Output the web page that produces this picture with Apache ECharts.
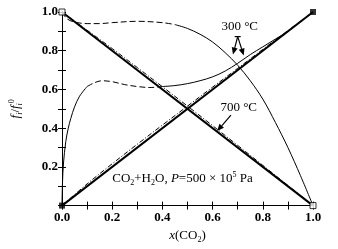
<!DOCTYPE html>
<html><head><meta charset="utf-8">
<script src="https://cdn.jsdelivr.net/npm/echarts@6/dist/echarts.min.js"></script>
<style>html,body{margin:0;padding:0;background:#fff}#c{width:338px;height:249px}</style>
</head><body><div id="c"></div>
<script>
// ---- data ----
const xTickLabels = ['0.0','0.2','0.4','0.6','0.8','1.0'];
const yTickLabels = ['0.2','0.4','0.6','0.8','1.0'];

const xIdeal = [0, 1];
const yIdealH2O = [1, 0];
const yIdealCO2 = [0, 1];

const x700 = [0, 0.1, 0.2, 0.3, 0.4, 0.5, 0.6, 0.7, 0.8, 0.9, 1.0];
const yH2O700 = [1, 0.906, 0.811, 0.713, 0.614, 0.514, 0.413, 0.311, 0.208, 0.104, 0];
const yCO2700 = [0, 0.112, 0.216, 0.317, 0.416, 0.514, 0.612, 0.709, 0.807, 0.904, 1];

const xH2O300Dash = [0, 0.02, 0.05, 0.1, 0.15, 0.2, 0.3, 0.4, 0.45];
const yH2O300Dash = [1, 0.965, 0.948, 0.94, 0.94, 0.945, 0.952, 0.945, 0.935];
const xH2O300Solid = [0.45, 0.5, 0.55, 0.6, 0.65, 0.7, 0.75, 0.8, 0.85, 0.9, 0.95, 1.0];
const yH2O300Solid = [0.935, 0.915, 0.885, 0.845, 0.79, 0.725, 0.645, 0.55, 0.43, 0.30, 0.155, 0];

const xCO2300SolidA = [0, 0.002, 0.006, 0.015, 0.025, 0.035, 0.05, 0.07, 0.1];
const yCO2300SolidA = [0, 0.12, 0.22, 0.33, 0.40, 0.45, 0.51, 0.565, 0.615];
const xCO2300Dash = [0.1, 0.13, 0.16, 0.2, 0.25, 0.3, 0.35, 0.4];
const yCO2300Dash = [0.615, 0.635, 0.645, 0.64, 0.625, 0.615, 0.61, 0.615];
const xCO2300SolidB = [0.4, 0.45, 0.5, 0.55, 0.6, 0.65, 0.7, 0.75, 0.8, 0.85, 0.9, 0.95, 1.0];
const yCO2300SolidB = [0.615, 0.62, 0.63, 0.645, 0.665, 0.695, 0.735, 0.78, 0.82, 0.86, 0.90, 0.95, 1.0];

const pureFilled = [[0, 0], [1, 1]];
const pureHollow = [[0, 1], [1, 0]];

// ---- chart ----
const zip = (xs, ys) => xs.map((x, i) => [x, ys[i]]);
const FONT = 'Liberation Serif';
const chart = echarts.init(document.getElementById('c'), null, {renderer: 'canvas'});

const fmtX = v => { const r = Math.round(v * 10); return r % 2 === 0 ? xTickLabels[r / 2] : ''; };
const fmtY = v => { const r = Math.round(v * 10); return (r % 2 === 0 && r > 0) ? yTickLabels[r / 2 - 1] : ''; };

const axisCommon = {
  type: 'value', min: 0, max: 1, interval: 0.1,
  axisLine: {show: true, lineStyle: {color: '#000', width: 1}},
  axisTick: {show: true, inside: true, length: 4, lineStyle: {color: '#000'}},
  splitLine: {show: false}
};

const lineS = (data, width, type) => ({
  type: 'line', data, showSymbol: false, symbol: 'none', smooth: 0.35,
  lineStyle: {color: '#000', width, type}, silent: true, z: 3
});

chart.setOption({
  animation: false,
  backgroundColor: '#fff',
  grid: {left: 57, right: 25, top: 12, bottom: 42},
  xAxis: [
    Object.assign({}, axisCommon, {
      position: 'bottom',
      axisLabel: {formatter: fmtX, color: '#000', fontFamily: FONT, fontSize: 13, fontWeight: 'bold', margin: 6},
      name: '{i|x}{n|(CO}{s|2}{n|)}', nameLocation: 'middle', nameGap: 20,
      nameTextStyle: {rich: {
        i: {fontFamily: FONT, fontSize: 13, fontStyle: 'italic', color: '#000', lineHeight: 16},
        n: {fontFamily: FONT, fontSize: 13, color: '#000', lineHeight: 16},
        s: {fontFamily: FONT, fontSize: 8, color: '#000', lineHeight: 16, verticalAlign: 'bottom'}
      }}
    }),
    Object.assign({}, axisCommon, {position: 'top', axisLabel: {show: false}})
  ],
  yAxis: [
    Object.assign({}, axisCommon, {
      position: 'left',
      axisLabel: {formatter: fmtY, color: '#000', fontFamily: FONT, fontSize: 13, fontWeight: 'bold', margin: 4},
      name: '{f|f}{s|i}{n|/}{f|f}{s|i}{p|0}', nameLocation: 'middle', nameGap: 38, nameRotate: 90,
      nameTextStyle: {rich: {
        f: {fontFamily: FONT, fontSize: 13, fontStyle: 'italic', color: '#000', lineHeight: 16},
        n: {fontFamily: FONT, fontSize: 13, color: '#000', lineHeight: 16},
        s: {fontFamily: FONT, fontSize: 8, fontStyle: 'italic', color: '#000', lineHeight: 16, verticalAlign: 'bottom'},
        p: {fontFamily: FONT, fontSize: 8, color: '#000', lineHeight: 16, verticalAlign: 'top'}
      }}
    }),
    Object.assign({}, axisCommon, {position: 'right', axisLabel: {show: false}})
  ],
  series: [
    lineS(zip(xIdeal, yIdealH2O), 2, 'solid'),
    lineS(zip(xIdeal, yIdealCO2), 2, 'solid'),
    lineS(zip(x700, yH2O700), 1, [5, 2, 1, 2]),
    lineS(zip(x700, yCO2700), 1, [5, 2, 1, 2]),
    lineS(zip(xH2O300Dash, yH2O300Dash), 1, [6, 3]),
    lineS(zip(xH2O300Solid, yH2O300Solid), 1, 'solid'),
    lineS(zip(xCO2300SolidA, yCO2300SolidA), 1, 'solid'),
    lineS(zip(xCO2300Dash, yCO2300Dash), 1, [6, 3]),
    lineS(zip(xCO2300SolidB, yCO2300SolidB), 1, 'solid'),
    {type: 'scatter', data: pureFilled, symbol: 'rect', symbolSize: 6, clip: false,
     itemStyle: {color: '#000'}, z: 6, silent: true},
    {type: 'scatter', data: pureHollow, symbol: 'rect', symbolSize: 6, clip: false,
     itemStyle: {color: '#fff', borderColor: '#000', borderWidth: 1}, z: 5, silent: true}
  ]
});

// ---- annotations (placed in data space) ----
const P = (x, y) => chart.convertToPixel({xAxisIndex: 0, yAxisIndex: 0}, [x, y]);
const arrow = (from, to) => {
  const a = P(from[0], from[1]), b = P(to[0], to[1]);
  const ang = Math.atan2(b[1] - a[1], b[0] - a[0]);
  const L = 7, W = 3;
  const bx = b[0] - L * Math.cos(ang), by = b[1] - L * Math.sin(ang);
  const nx = -Math.sin(ang) * W, ny = Math.cos(ang) * W;
  return [
    {type: 'line', shape: {x1: a[0], y1: a[1], x2: bx, y2: by}, style: {stroke: '#000', lineWidth: 1.2}, z: 10},
    {type: 'polygon', shape: {points: [[b[0], b[1]], [bx + nx, by + ny], [bx - nx, by - ny]]}, style: {fill: '#000'}, z: 10}
  ];
};
const txt = (x, y, rich, str) => {
  const p = P(x, y);
  return {type: 'text', x: p[0], y: p[1], z: 10,
    style: {text: str, align: 'center', verticalAlign: 'middle', rich}};
};
const richBase = {
  n: {fontFamily: FONT, fontSize: 13, color: '#000', lineHeight: 16},
  i: {fontFamily: FONT, fontSize: 13, fontStyle: 'italic', color: '#000', lineHeight: 16},
  s: {fontFamily: FONT, fontSize: 8, color: '#000', lineHeight: 16, verticalAlign: 'bottom'},
  p: {fontFamily: FONT, fontSize: 8, color: '#000', lineHeight: 16, verticalAlign: 'top'}
};
const t1 = P(0.688, 0.873), t2 = P(0.712, 0.873);
const g = [
  txt(0.708, 0.923, richBase, '{n|300 °C}'),
  {type: 'line', shape: {x1: t1[0], y1: t1[1], x2: t2[0], y2: t2[1]}, style: {stroke: '#000', lineWidth: 1.2}, z: 10},
  ...arrow([0.70, 0.873], [0.681, 0.78]),
  ...arrow([0.70, 0.873], [0.724, 0.775]),
  txt(0.704, 0.508, richBase, '{n|700 °C}'),
  ...arrow([0.673, 0.467], [0.618, 0.385]),
  txt(0.48, 0.138, richBase, '{n|CO}{s|2}{n|+H}{s|2}{n|O, }{i|P}{n|=500 × 10}{p|5}{n| Pa}')
];
chart.setOption({graphic: g});
</script>
</body></html>
